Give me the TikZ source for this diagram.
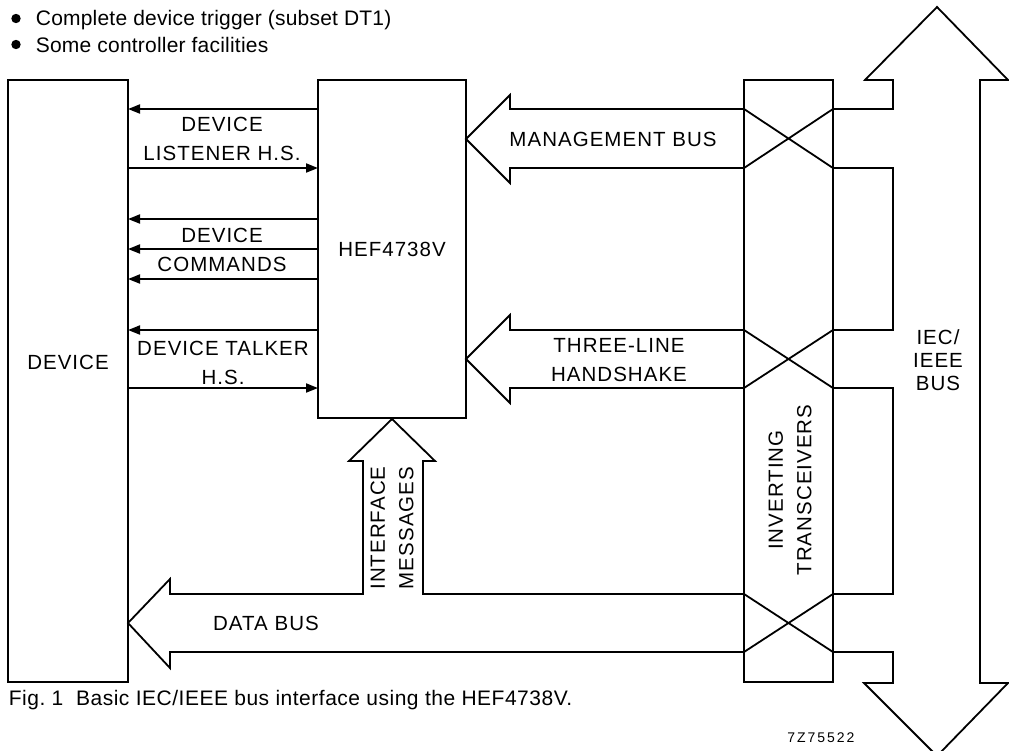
\documentclass[tikz,border=0pt]{standalone}
\usepackage{fontspec}
\setmainfont{Liberation Sans}
\newfontfamily\lblfont[LetterSpace=5]{Liberation Sans}
\newfontfamily\hdrfont[LetterSpace=1]{Liberation Sans}
\newfontfamily\capfont[LetterSpace=2.4]{Liberation Sans}
\newfontfamily\idfont[LetterSpace=14]{Liberation Sans}
\usetikzlibrary{arrows.meta}
\begin{document}
\begin{tikzpicture}[x=1pt,y=-1pt,line width=1.8pt,line join=miter,
  box/.style={draw,inner sep=0pt,outer sep=0pt,anchor=north west},
  lbl/.style={font=\lblfont\fontsize{20.5}{28.5}\selectfont,align=center,inner sep=0pt},
  sig/.style={-{Triangle[length=12pt,width=9pt]}},
  hdr/.style={font=\hdrfont\fontsize{21}{26}\selectfont,inner sep=0pt,anchor=base west},
  captxt/.style={font=\capfont\fontsize{21}{26}\selectfont,inner sep=0pt,anchor=base west}]
\useasboundingbox (0,0) rectangle (1009,750);

% header
\fill (16,18.5) circle[radius=4.7pt];
\fill (16,44.5) circle[radius=4.7pt];
\node[hdr] (h1) at (35,25) {Complete device trigger (subset DT1)};
\node[hdr] (h2) at (35,52) {Some controller facilities};

% blocks
\node[box,minimum width=120pt,minimum height=602pt] (dev) at (8,80) {};
\node[lbl] (tdev) at (68,362) {DEVICE};
\node[box,lbl,minimum width=148pt,minimum height=338pt] (hef) at (318,80) {HEF4738V};
\node[box,minimum width=89pt,minimum height=602pt] (trx) at (744,80) {};
\node[lbl,rotate=90] (tinv) at (790,490) {INVERTING\\TRANSCEIVERS};

% device <-> HEF signals
\draw[sig] (hef.west |- 0,109) -- (dev.east |- 0,109);
\draw[sig] (dev.east |- 0,168) -- (hef.west |- 0,168);
\draw[sig] (hef.west |- 0,219) -- (dev.east |- 0,219);
\draw[sig] (hef.west |- 0,249) -- (dev.east |- 0,249);
\draw[sig] (hef.west |- 0,279) -- (dev.east |- 0,279);
\draw[sig] (hef.west |- 0,330) -- (dev.east |- 0,330);
\draw[sig] (dev.east |- 0,388) -- (hef.west |- 0,388);
\node[lbl] (tlis) at (222,139) {DEVICE\\LISTENER H.S.};
\node[lbl] (tcmd) at (222,250) {DEVICE\\COMMANDS};
\node[lbl] (ttalk) at (223,363) {DEVICE TALKER\\H.S.};

% management bus
\draw (trx.west |- 0,109) -- (510,109) -- (510,95) -- (hef.east |- 0,139)
  -- (510,183) -- (510,168) -- (trx.west |- 0,168);
\draw (trx.west |- 0,109) -- (trx.east |- 0,168)
      (trx.west |- 0,168) -- (trx.east |- 0,109);
\node[lbl] (tmgmt) at (613,139) {MANAGEMENT BUS};

% three-line handshake
\draw (trx.west |- 0,330) -- (510,330) -- (510,315) -- (hef.east |- 0,359)
  -- (510,403) -- (510,388) -- (trx.west |- 0,388);
\draw (trx.west |- 0,330) -- (trx.east |- 0,388)
      (trx.west |- 0,388) -- (trx.east |- 0,330);
\node[lbl] (t3l) at (619,360) {THREE-LINE\\HANDSHAKE};

% data bus with interface messages
\draw (trx.west |- 0,594) -- (423,594) -- (423,461) -- (435,461) -- (hef.south |- 0,419)
  -- (349,461) -- (363,461) -- (363,594) -- (170,594) -- (170,579)
  -- (dev.east |- 0,623) -- (170,668) -- (170,652) -- (trx.west |- 0,652);
\draw (trx.west |- 0,594) -- (trx.east |- 0,652)
      (trx.west |- 0,652) -- (trx.east |- 0,594);
\node[lbl] (tdata) at (266,623) {DATA BUS};
\node[lbl,rotate=90] (tifm) at (392,528) {INTERFACE\\MESSAGES};

% IEC/IEEE bus
\draw (trx.east |- 0,109) -- (893,109) -- (893,80) -- (865,80) -- (937,7)
  -- (1008,80) -- (980,80) -- (980,683) -- (1008,683) -- (937,756)
  -- (864,683) -- (893,683) -- (893,652) -- (trx.east |- 0,652);
\draw (trx.east |- 0,168) -- (893,168) -- (893,330) -- (trx.east |- 0,330);
\draw (trx.east |- 0,388) -- (893,388) -- (893,594) -- (trx.east |- 0,594);
\node[lbl,font=\lblfont\fontsize{20.5}{23}\selectfont] (tbus) at (938,360) {IEC/\\IEEE\\BUS};

% caption
\node[captxt] (fig) at (8,705) {Fig.\ 1\ \ Basic IEC/IEEE bus interface using the HEF4738V.};
\node[font=\idfont\fontsize{14}{16}\selectfont,inner sep=0pt,anchor=base] (code) at (821,742) {7Z75522};
\end{tikzpicture}
\end{document}
